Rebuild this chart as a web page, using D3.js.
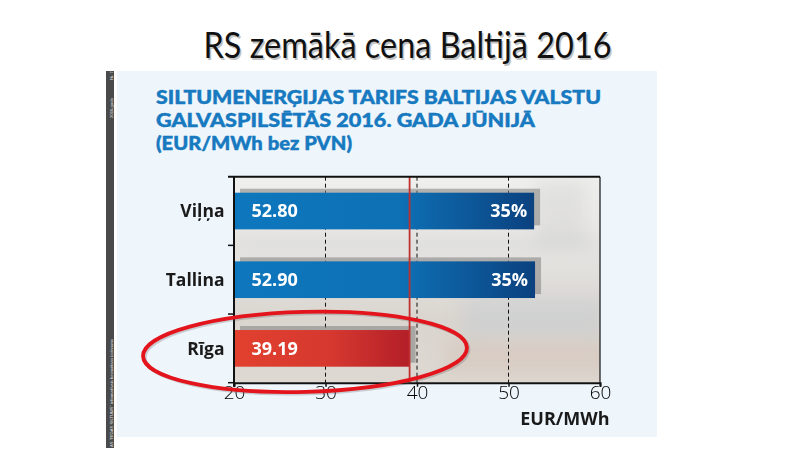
<!DOCTYPE html>
<html>
<head>
<meta charset="utf-8">
<script src="https://cdn.jsdelivr.net/npm/d3@7/dist/d3.min.js"></script>
<style>
  html, body { margin: 0; padding: 0; background: #ffffff; }
  svg { display: block; }
</style>
</head>
<body>
<svg id="chart" width="800" height="450"></svg>
<script>
// ---- data ----
const categories = ["Viļņa", "Tallina", "Rīga"];
const values = [52.80, 52.90, 39.19];
const valueLabels = ["52.80", "52.90", "39.19"];
const diffLabels = ["35%", "35%", ""];
const highlighted = ["Rīga"];
const refValue = 39.19;
const xTicks = [20, 30, 40, 50, 60];
const gridValues = [30, 40, 50];
const mainTitle = "RS zemākā cena Baltijā 2016";
const panelTitle = ["SILTUMENERĢIJAS TARIFS BALTIJAS VALSTU", "GALVASPILSĒTĀS 2016. GADA JŪNIJĀ", "(EUR/MWh bez PVN)"];
const panelTitleWidths = [445, 379, 196];
const axisTitle = "EUR/MWh";
const sideTexts = ["AS \"RĪGAS SILTUMS\" informatīvais bezmaksas izdevums", "2016.gada", "Nr. 7"];

(function () {
const svg = d3.select("#chart");
const defs = svg.append("defs");

// gradients
const gBlue = defs.append("linearGradient").attr("id", "gBlue").attr("x1", 0).attr("x2", 1).attr("y1", 0).attr("y2", 0);
gBlue.append("stop").attr("offset", "0%").attr("stop-color", "#0d77bd");
gBlue.append("stop").attr("offset", "55%").attr("stop-color", "#0e70b5");
gBlue.append("stop").attr("offset", "100%").attr("stop-color", "#0b417f");
const gRed = defs.append("linearGradient").attr("id", "gRed").attr("x1", 0).attr("x2", 1).attr("y1", 0).attr("y2", 0);
gRed.append("stop").attr("offset", "0%").attr("stop-color", "#e2412f");
gRed.append("stop").attr("offset", "55%").attr("stop-color", "#d6382f");
gRed.append("stop").attr("offset", "100%").attr("stop-color", "#b31f28");
const gPhoto = defs.append("linearGradient").attr("id", "gPhoto").attr("x1", 0).attr("x2", 0).attr("y1", 0).attr("y2", 1);
[["0%", "#efefee"], ["30%", "#e8e7e4"], ["50%", "#e0dedb"], ["70%", "#dad5ce"], ["100%", "#ddd9d2"]]
  .forEach(s => gPhoto.append("stop").attr("offset", s[0]).attr("stop-color", s[1]));
defs.append("filter").attr("id", "blur").attr("x", "-30%").attr("y", "-60%").attr("width", "160%").attr("height", "220%")
  .append("feGaussianBlur").attr("stdDeviation", 8);

// ---- main title ----
svg.append("text").attr("x", 409).attr("y", 59.5)
  .attr("text-anchor", "middle").attr("font-family", "Lato, 'Noto Sans', sans-serif")
  .attr("font-size", 37).attr("fill", "#9a9a9a").attr("opacity", 0.6)
  .attr("textLength", 408).attr("lengthAdjust", "spacingAndGlyphs").text(mainTitle);
svg.append("text").attr("x", 407.5).attr("y", 58.3)
  .attr("text-anchor", "middle").attr("font-family", "Lato, 'Noto Sans', sans-serif")
  .attr("font-size", 37).attr("fill", "#111111")
  .attr("textLength", 408).attr("lengthAdjust", "spacingAndGlyphs").text(mainTitle);

// ---- panel ----
svg.append("rect").attr("x", 117).attr("y", 71).attr("width", 540).attr("height", 366).attr("fill", "#eef6fc");
svg.append("rect").attr("x", 106).attr("y", 71).attr("width", 8).attr("height", 377).attr("fill", "#4a4a4a");
const sidePos = [[111, 447], [111, 118], [111, 80]];
sideTexts.forEach((t, i) => {
  svg.append("text").attr("transform", `translate(${sidePos[i][0]},${sidePos[i][1]}) rotate(-90)`)
    .attr("font-family", "'Liberation Sans', sans-serif").attr("font-size", 4.2).attr("fill", "#e8e8e8")
    .attr("dominant-baseline", "central").text(t);
});

svg.selectAll("text.ptitle").data(panelTitle).join("text").attr("class", "ptitle")
  .attr("x", 156).attr("y", (d, i) => 104.3 + i * 23)
  .attr("font-family", "Lato, 'Open Sans', sans-serif").attr("font-weight", 900)
  .attr("font-size", 19).attr("fill", "#1779bf")
  .attr("stroke", "#1779bf").attr("stroke-width", 0.45)
  .attr("textLength", (d, i) => panelTitleWidths[i]).attr("lengthAdjust", "spacingAndGlyphs")
  .text(d => d);

// ---- scales ----
const x = d3.scaleLinear().domain([20, 60]).range([234, 600]);
const y = d3.scaleBand().domain(categories).range([176.7, 382.7]).paddingInner(0.466).paddingOuter(0.233);
const yTop = y.range()[0], yBot = y.range()[1];

defs.append("clipPath").attr("id", "plotClip").append("rect")
  .attr("x", x(20)).attr("y", yTop).attr("width", x(60) - x(20)).attr("height", yBot - yTop);

// photo-like plot background (soft, blurred tones)
const bg = svg.append("g").attr("clip-path", "url(#plotClip)");
bg.append("rect").attr("x", x(20)).attr("y", yTop).attr("width", x(60) - x(20)).attr("height", yBot - yTop).attr("fill", "url(#gPhoto)");
const soft = bg.append("g").attr("filter", "url(#blur)");
soft.append("rect").attr("x", x(45)).attr("y", 298).attr("width", 140).attr("height", 40).attr("fill", "#c3cbd3").attr("opacity", 0.45);
soft.append("rect").attr("x", x(20)).attr("y", 236).attr("width", x(60) - x(20)).attr("height", 14).attr("fill", "#d3d5d5").attr("opacity", 0.5);
soft.append("rect").attr("x", x(53)).attr("y", 180).attr("width", 50).attr("height", 70).attr("fill", "#cfcfcc").attr("opacity", 0.4);
soft.append("rect").attr("x", x(43)).attr("y", 340).attr("width", 170).attr("height", 35).attr("fill", "#d4c2b6").attr("opacity", 0.45);

// gridlines
svg.selectAll("line.grid").data(gridValues).join("line").attr("class", "grid")
  .attr("x1", d => x(d)).attr("x2", d => x(d)).attr("y1", yTop).attr("y2", yBot)
  .attr("stroke", "#111").attr("stroke-width", 1).attr("stroke-dasharray", "4,3");

const data = categories.map((c, i) => ({ c, v: values[i], lab: valueLabels[i], diff: diffLabels[i], hi: highlighted.includes(c) }));

// shadows
svg.selectAll("rect.shadow").data(data).join("rect").attr("class", "shadow")
  .attr("x", x(20) + 6).attr("y", d => y(d.c) - 4)
  .attr("width", d => x(d.v) - x(20)).attr("height", y.bandwidth())
  .attr("fill", "#7f7f7f").attr("opacity", 0.55);
// bars
svg.selectAll("rect.bar").data(data).join("rect").attr("class", "bar")
  .attr("x", x(20)).attr("y", d => y(d.c))
  .attr("width", d => x(d.v) - x(20)).attr("height", y.bandwidth())
  .attr("fill", d => d.hi ? "url(#gRed)" : "url(#gBlue)");

// reference line
svg.append("line").attr("x1", x(refValue)).attr("x2", x(refValue)).attr("y1", yTop).attr("y2", yBot)
  .attr("stroke", "#c0302f").attr("stroke-width", 1.8);

// frame and axes
const axisG = svg.append("g").attr("transform", `translate(0,${yBot})`)
  .call(d3.axisBottom(x).tickValues(xTicks).tickSize(4).tickFormat(d3.format("d")));
axisG.select(".domain").attr("stroke", "#111").attr("stroke-width", 2);
axisG.selectAll(".tick line").attr("stroke", "#111").attr("stroke-width", 1.5);
axisG.selectAll(".tick text").attr("font-family", "'Open Sans', Lato, sans-serif").attr("font-weight", 300)
  .attr("font-size", 19).attr("fill", "#000").attr("dy", "0.62em").attr("y", 5);

svg.append("line").attr("x1", x(20) - 6).attr("x2", x(60)).attr("y1", yTop).attr("y2", yTop).attr("stroke", "#111").attr("stroke-width", 2);
svg.append("line").attr("x1", x(60)).attr("x2", x(60)).attr("y1", yTop).attr("y2", yBot).attr("stroke", "#111").attr("stroke-width", 1.2);
svg.append("line").attr("x1", x(20)).attr("x2", x(20)).attr("y1", yTop).attr("y2", yBot + 4).attr("stroke", "#111").attr("stroke-width", 2);
const bounds = [yTop + y.step(), yTop + 2 * y.step(), yBot];
svg.selectAll("line.ytick").data(bounds).join("line").attr("class", "ytick")
  .attr("x1", x(20) - 6).attr("x2", x(20)).attr("y1", d => d).attr("y2", d => d)
  .attr("stroke", "#111").attr("stroke-width", 1.5);

// category labels
svg.selectAll("text.cat").data(data).join("text").attr("class", "cat")
  .attr("x", x(20) - 9.5).attr("y", d => y(d.c) + y.bandwidth() / 2 + 6.3)
  .attr("text-anchor", "end").attr("font-family", "'Open Sans', Lato, sans-serif").attr("font-weight", 700)
  .attr("font-size", 17.5).attr("fill", "#1a1a1a").text(d => d.c);

// value labels
svg.selectAll("text.val").data(data).join("text").attr("class", "val")
  .attr("x", x(20) + 17.5).attr("y", d => y(d.c) + y.bandwidth() / 2 + 6.3)
  .attr("font-family", "'Open Sans', Lato, sans-serif").attr("font-weight", 700)
  .attr("font-size", 18).attr("fill", "#ffffff").text(d => d.lab);
svg.selectAll("text.diff").data(data.filter(d => d.diff)).join("text").attr("class", "diff")
  .attr("x", d => x(d.v) - 7).attr("y", d => y(d.c) + y.bandwidth() / 2 + 6.3)
  .attr("text-anchor", "end").attr("font-family", "'Open Sans', Lato, sans-serif").attr("font-weight", 700)
  .attr("font-size", 18).attr("fill", "#ffffff").text(d => d.diff);

// axis title
svg.append("text").attr("x", 609.5).attr("y", 425).attr("text-anchor", "end")
  .attr("font-family", "'Open Sans', Lato, sans-serif").attr("font-weight", 700)
  .attr("font-size", 18).attr("fill", "#1a1a1a").text(axisTitle);

// highlight ellipse
const hiCat = highlighted[0];
const ecx = 305, ecy = y(hiCat) + y.bandwidth() / 2 + 3.5;
svg.append("ellipse").attr("cx", ecx + 1.5).attr("cy", ecy + 1.5).attr("rx", 162).attr("ry", 40)
  .attr("transform", `rotate(-1.5 ${ecx} ${ecy})`)
  .attr("fill", "none").attr("stroke", "#555").attr("stroke-width", 3.8).attr("opacity", 0.25);
svg.append("ellipse").attr("cx", ecx).attr("cy", ecy).attr("rx", 162).attr("ry", 40)
  .attr("transform", `rotate(-1.5 ${ecx} ${ecy})`)
  .attr("fill", "none").attr("stroke", "#e3141b").attr("stroke-width", 3.8);
})();
</script>
</body>
</html>
